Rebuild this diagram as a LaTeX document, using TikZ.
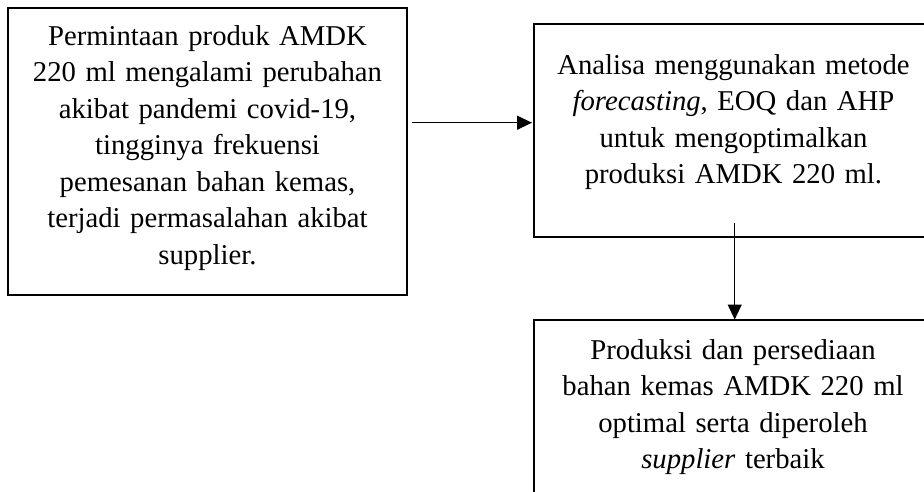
\documentclass[tikz,border=0pt]{standalone}
\usepackage{fontspec}
\setmainfont{Liberation Serif}
\usetikzlibrary{arrows.meta}
\begin{document}
\begin{tikzpicture}[x=1pt,y=-1pt]
\tikzset{
  frame/.style={draw, line width=2.6pt, inner sep=0pt, outer sep=0pt, anchor=north west},
  txt/.style={font=\fontsize{28.7}{36.5}\selectfont, align=center, text width=420pt, inner sep=0pt, anchor=base},
  conn/.style={line width=1.2pt, -{Triangle[length=15pt,width=14pt]}}
}
\clip (0,0) rectangle (924,491);
\fill[white] (0,0) rectangle (924,491);

% boxes
\node[frame, minimum width=399pt, minimum height=287pt] (box1) at (8,8) {};
\node[frame, minimum width=400pt, minimum height=213pt] (box2) at (534,24) {};
\node[frame, minimum width=400pt, minimum height=190pt] (box3) at (534,320) {};

% box texts
\node[txt] (t1) at (207.5,45) {Permintaan produk AMDK\\220 ml mengalami perubahan\\akibat pandemi covid-19,\\tingginya frekuensi\\pemesanan bahan kemas,\\terjadi permasalahan akibat\\supplier.};
\node[txt] (t2) at (733.5,74) {Analisa menggunakan metode\\\textit{forecasting}, EOQ dan AHP\\untuk mengoptimalkan\\produksi AMDK 220 ml.};
\node[txt] (t3) at (733,359) {Produksi dan persediaan\\bahan kemas AMDK 220 ml\\optimal serta diperoleh\\\textit{supplier} terbaik};

% connectors
\coordinate (a1) at (412,122.7);
\coordinate (a2) at (734.7,223);
\draw[conn, shorten >=2pt] (a1) -- (a1 -| box2.west);
\draw[conn, shorten >=0.5pt] (a2) -- (a2 |- box3.north);
\end{tikzpicture}
\end{document}
